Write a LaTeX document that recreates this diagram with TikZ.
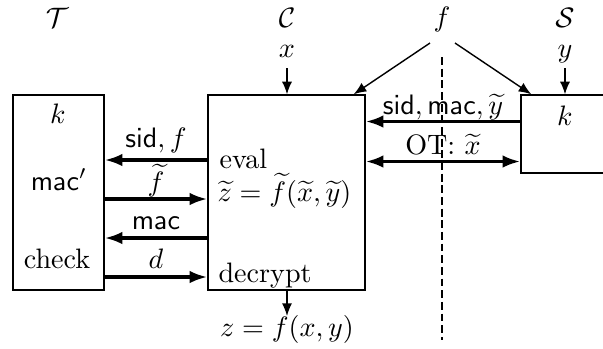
\documentclass[tikz,border=0pt]{standalone}
\usetikzlibrary{arrows.meta,calc}
\begin{document}
\begin{tikzpicture}[x=0.3558pt,y=-0.3558pt,
  box/.style={draw, line width=0.5pt, inner sep=0pt},
  thinarr/.style={line width=0.5pt, -{Latex[length=4.5pt,width=3.6pt]}},
  thickarr/.style={line width=1.2pt, -{Latex[length=6.3pt,width=4.5pt]}},
  dblarr/.style={line width=1.2pt, {Latex[length=6.3pt,width=4.5pt]}-{Latex[length=6.3pt,width=4.5pt]}},
  txt/.style={inner sep=0pt, anchor=base},
  ltxt/.style={inner sep=0pt, anchor=base west},
  sep/.style={line width=0.5pt, dash pattern=on 2.8pt off 1.35pt}]
\useasboundingbox (0,0) rectangle (603,348);
\clip (0,0) rectangle (603,348);
% boxes
\node[box, minimum width=32.38pt, minimum height=69.38pt] (T) at (58.5,192.5) {};
\node[box, minimum width=55.86pt, minimum height=69.38pt] (C) at (286.5,192.5) {};
\node[box, minimum width=49.46pt, minimum height=27.75pt] (S) at (590.5,134) {};
% party labels
\node[txt] (Tl) at (57,27) {$\mathcal{T}$};
\node[txt] (Cl) at (287,27) {$\mathcal{C}$};
\node[txt] (fl) at (442,26.5) {$f$};
\node[txt] (Sl) at (565,27) {$\mathcal{S}$};
\node[txt] (x) at (287,57) {$x$};
\node[txt] (y) at (565,57) {$y$};
% inside T
\node[txt] (Tk) at (58,123) {$k$};
\node[txt] (Tmac) at (59,190) {$\mathsf{mac}'$};
\node[txt] (Tchk) at (57,268) {check};
% inside C
\node[ltxt] (Ceval) at (219,168) {eval};
\node[ltxt] (Cz) at (217,201) {$\widetilde{z}=\widetilde{f}(\widetilde{x},\widetilde{y})$};
\node[ltxt] (Cdec) at (218,282) {decrypt};
% inside S
\node[txt] (Sk) at (565,125) {$k$};
% output
\node[txt] (z) at (287,336) {$z=f(x,y)$};
\coordinate (zt) at (287,316);
% inputs
\draw[thinarr] (x.south |- 0,68) -- (C.north -| x);
\draw[thinarr] (y.south |- 0,68) -- (S.north -| y);
\draw[thinarr] (C.south -| z) -- (zt);
\draw[thinarr] ($(fl.base)+(-12,16.5)$) -- ($(C.north east)+(-12,0)$);
\draw[thinarr] ($(fl.base)+(13,16.5)$) -- ($(S.north west)+(11,0)$);
% dashed separator
\coordinate (dend) at (442,340);
\draw[sep] ($(fl.base)+(0,30.5)$) -- (dend);
% T <-> C
\draw[thickarr] (C.west |- 0,160) -- (T.east |- 0,160)
  node[midway, txt, yshift=4.4pt] {$\mathsf{sid}, f$};
\draw[thickarr] (T.east |- 0,199) -- (C.west |- 0,199)
  node[midway, txt, yshift=2.7pt] {$\widetilde{f}$};
\draw[thickarr] (C.west |- 0,238) -- (T.east |- 0,238)
  node[midway, txt, yshift=2.9pt] {$\mathsf{mac}$};
\draw[thickarr] (T.east |- 0,277) -- (C.west |- 0,277)
  node[midway, txt, yshift=3.2pt] {$d$};
% C <-> S
\draw[thickarr] (S.west |- 0,121.5) -- (C.east |- 0,121.5)
  node[midway, txt, yshift=2.4pt] {$\mathsf{sid}, \mathsf{mac}, \widetilde{y}$};
\draw[dblarr] (C.east |- 0,161.5) -- (S.west |- 0,161.5)
  node[midway, txt, yshift=2.4pt] {OT: $\widetilde{x}$};
\end{tikzpicture}
\end{document}
